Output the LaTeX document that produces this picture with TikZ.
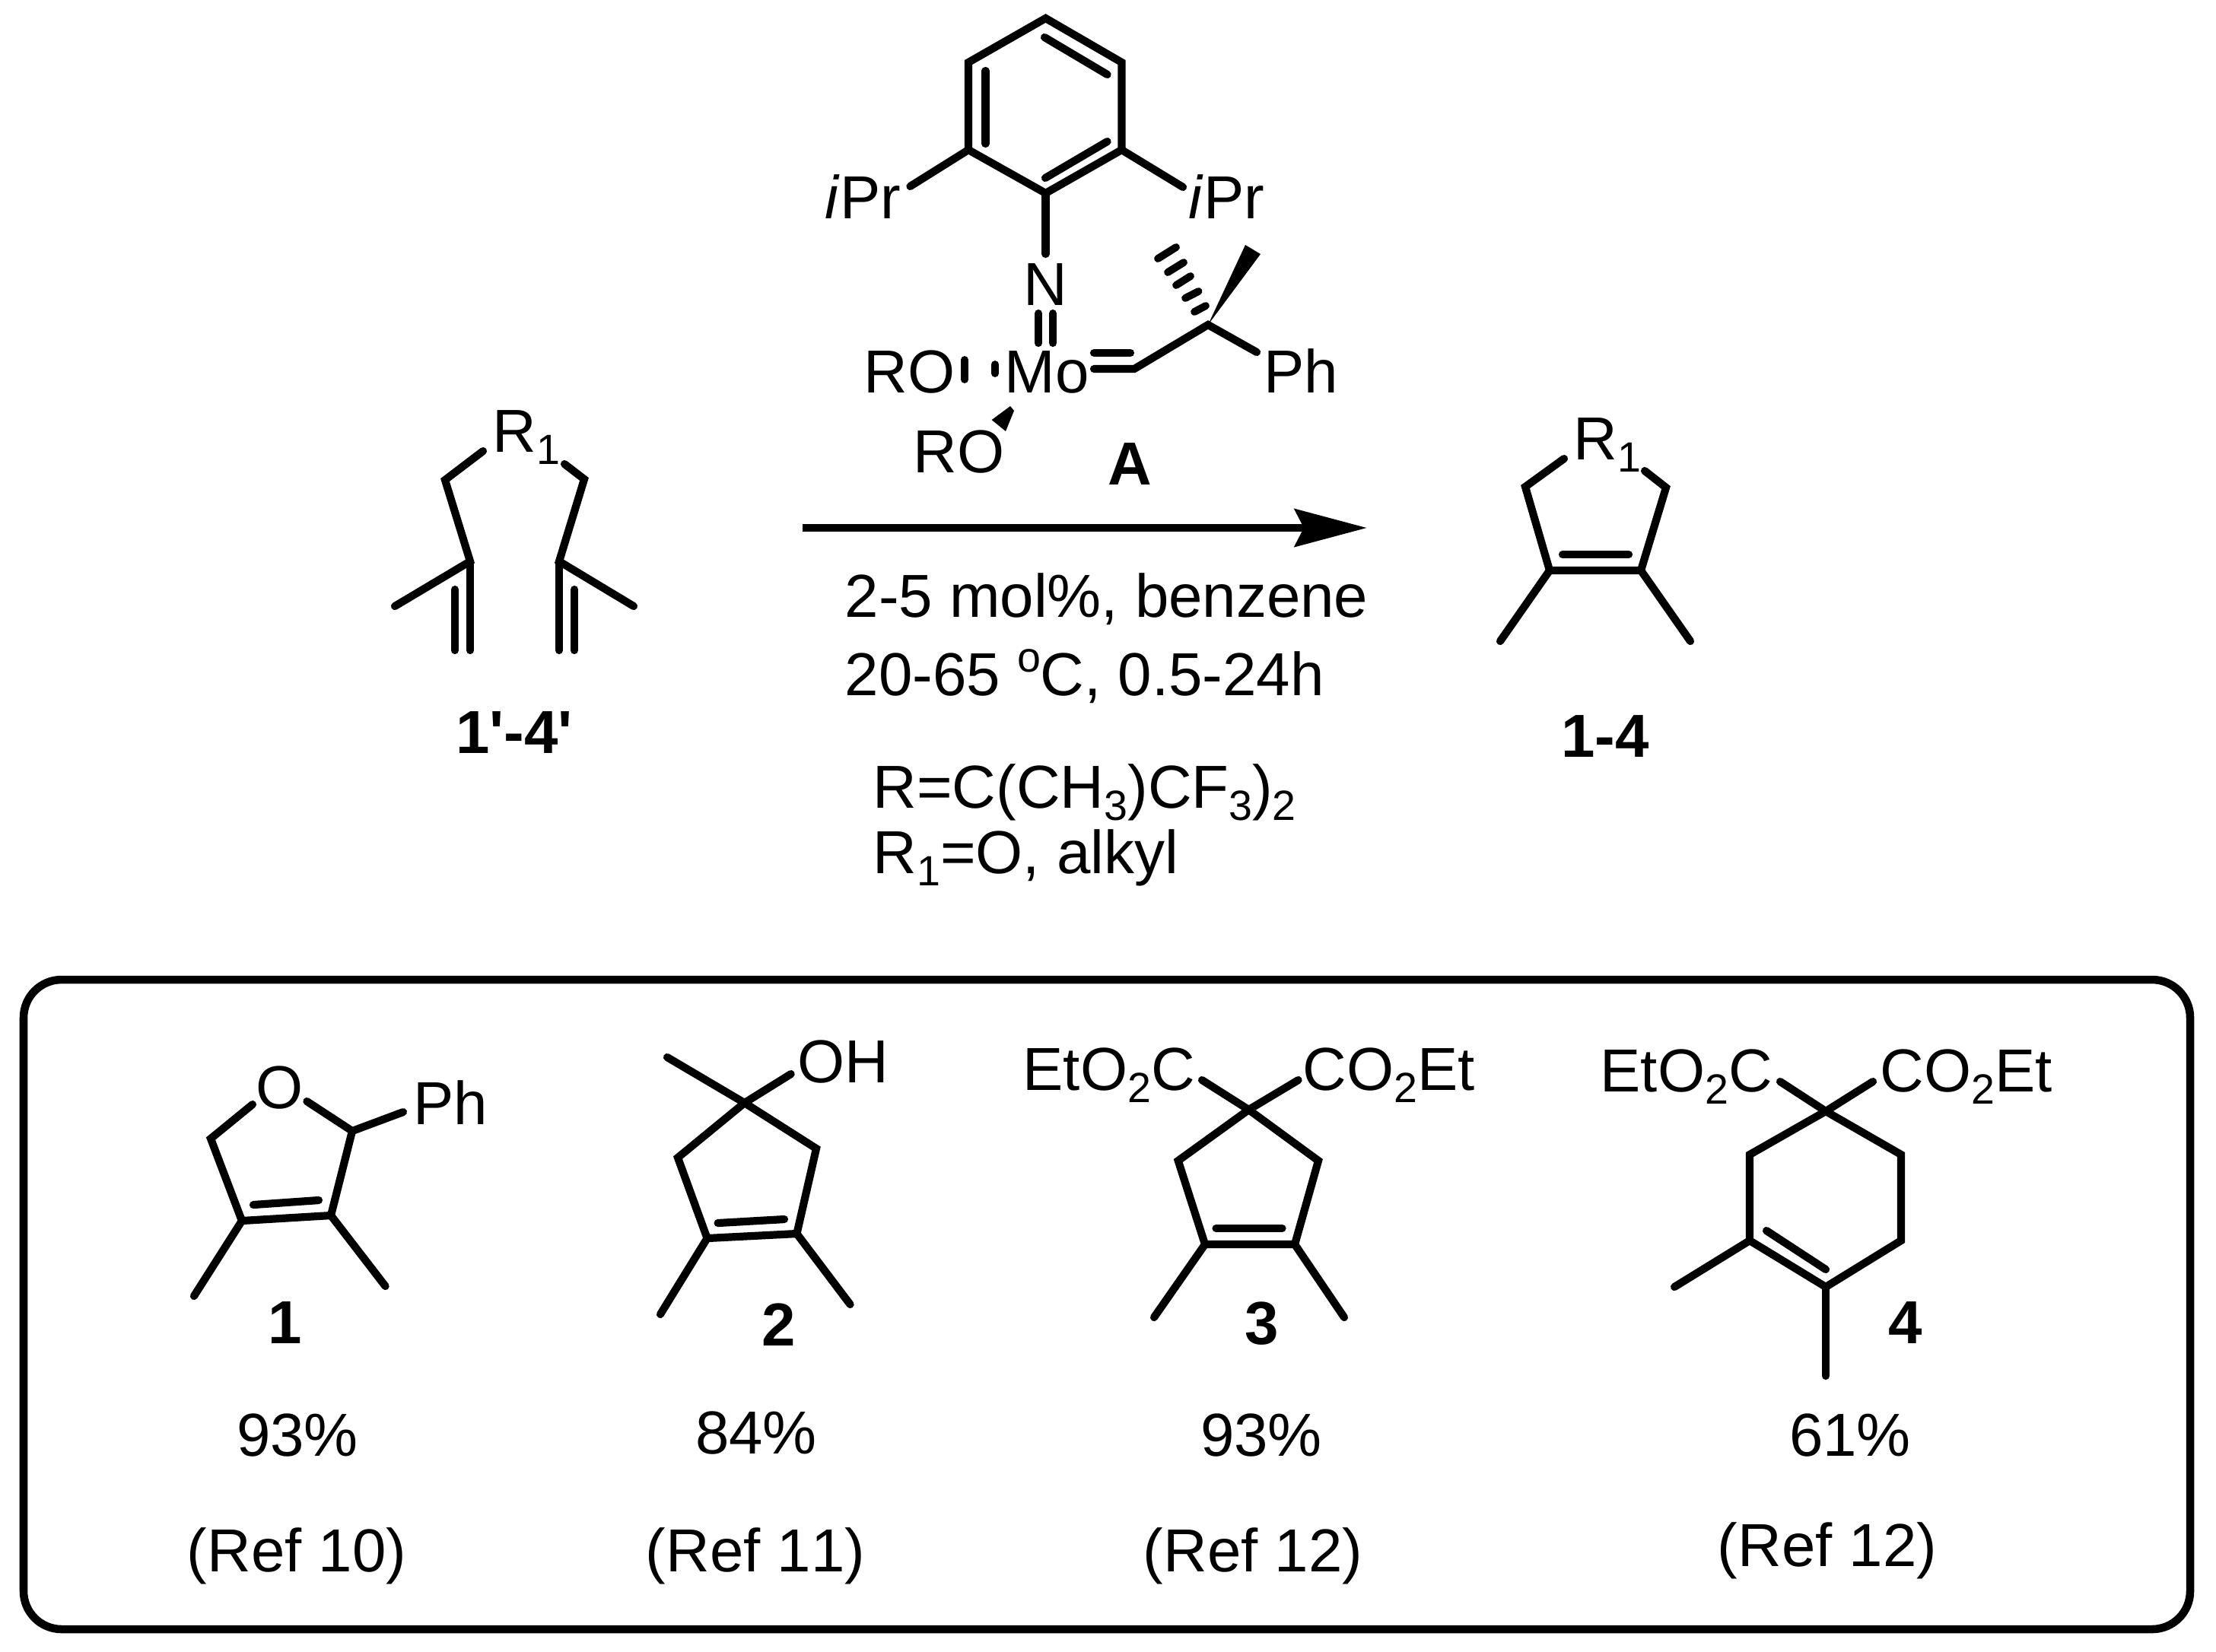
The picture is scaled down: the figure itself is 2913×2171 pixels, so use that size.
\documentclass[tikz,border=0pt]{standalone}
\usepackage{fontspec}
\setmainfont{Liberation Sans}[Ligatures=TeXOff,Kerning=Off]
\usetikzlibrary{arrows.meta}
% lowered and raised small text
\newcommand{\subs}[1]{\raisebox{-4.8pt}{\fontsize{15.8}{18}\selectfont #1}}
\newcommand{\sups}[1]{\raisebox{8.8pt}{\fontsize{15.8}{18}\selectfont #1}}
\tikzset{
    %Define standard arrow tip
    >={Stealth[length=27pt,width=14pt,inset=3.4pt]},
    %Define style for atom labels and plain text
    atom/.style={
           inner sep=0pt,
           anchor=base west,
           font=\fontsize{22.7}{27}\selectfont},
    tag/.style={
           inner sep=0pt,
           anchor=base,
           font=\fontsize{22.7}{27}\selectfont},
    boldtag/.style={
           inner sep=0pt,
           anchor=base,
           font=\fontsize{22.7}{27}\selectfont\bfseries},
    % Define bond styles
    bond/.style={
           draw=black,
           line width=2.9pt,
           line cap=round},
    hash/.style={
           draw=black,
           line width=2.8pt,
           line cap=round},
    wedge/.style={
           fill=black},
    reaction/.style={
           ->,
           draw=black,
           line width=3.1pt},
    panel/.style={
           draw=black,
           line width=3pt,
           rounded corners=0.5cm}
}
\begin{document}
\begin{tikzpicture}[x=0.01cm,y=-0.01cm]
\useasboundingbox (0,0) rectangle (2913,2171);
% catalyst A
\coordinate (top) at (1374.5,24);
\coordinate (ur) at (1474.5,82);
\coordinate (lr) at (1474.5,197);
\coordinate (bot) at (1374.5,254);
\coordinate (ll) at (1273,197);
\coordinate (ul) at (1273,82);
\coordinate (in1) at (1295.4,93);
\coordinate (in2) at (1295.4,189);
\coordinate (in3) at (1373,49);
\coordinate (in4) at (1455.6,98);
\coordinate (in5) at (1374,234);
\coordinate (in6) at (1455.6,186);
\coordinate (ipl) at (1196.4,245);
\coordinate (ipr) at (1555,246);
\coordinate (nend) at (1374.5,334);
\coordinate (nm1) at (1365,412);
\coordinate (nm2) at (1365,451);
\coordinate (nm3) at (1384,412);
\coordinate (nm4) at (1384,451);
\coordinate (mc1) at (1438,464);
\coordinate (mc2) at (1486,464);
\coordinate (mc3) at (1438,485);
\coordinate (mc4) at (1491,485);
\coordinate (cq) at (1588,427);
\coordinate (phend) at (1652,463);
\draw[bond] (ul)--(top)--(ur)--(lr)--(bot)--(ll)--cycle;
\draw[bond] (in1)--(in2);
\draw[bond] (in3)--(in4);
\draw[bond] (in5)--(in6);
\draw[bond] (ll)--(ipl);
\draw[bond] (lr)--(ipr);
\draw[bond] (bot)--(nend);
\draw[bond] (nm1)--(nm2);
\draw[bond] (nm3)--(nm4);
\draw[bond] (mc1)--(mc2);
\draw[bond] (mc3)--(mc4)--(cq)--(phend);
\fill[wedge] (cq)--(1637,322)--(1657,334)--cycle;
\draw[hash] (1522,340)--(1546,325);
\draw[hash] (1535,358)--(1556,345);
\draw[hash] (1546,375)--(1565,363);
\draw[hash] (1558,392)--(1575.5,383);
\draw[hash] (1570,410)--(1585,402);
\draw[hash] (1268,473)--(1268,499);
\draw[hash] (1308,479)--(1308,491);
\fill[wedge] (1328,534)--(1333,540)--(1322,567)--(1303.6,552)--cycle;
\node[atom] (ipr1) at (1084,287) {\textit{i}Pr};
\node[atom] (ipr2) at (1562,287) {\textit{i}Pr};
\node[tag] (n) at (1374.5,401) {N};
\node[atom] (ro1) at (1135,516) {RO};
\node[atom] (mo) at (1320,516) {Mo};
\node[atom] (ph) at (1661,516) {Ph};
\node[atom] (ro2) at (1200,621) {RO};
\node[boldtag] (a) at (1485,637) {A};
% substrate
\coordinate (s1) at (635,593);
\coordinate (s2) at (585,631);
\coordinate (s3) at (618,738);
\coordinate (s4) at (519,797);
\coordinate (s5) at (618,855);
\coordinate (s6) at (598,775);
\coordinate (s7) at (598,855);
\coordinate (s8) at (742,610);
\coordinate (s9) at (768,630);
\coordinate (s10) at (735,738);
\coordinate (s11) at (833,797);
\coordinate (s12) at (735,855);
\coordinate (s13) at (755,775);
\coordinate (s14) at (755,855);
\draw[bond] (s1)--(s2)--(s3)--(s4);
\draw[bond] (s3)--(s5);
\draw[bond] (s6)--(s7);
\draw[bond] (s8)--(s9)--(s10)--(s11);
\draw[bond] (s10)--(s12);
\draw[bond] (s13)--(s14);
\node[atom] (sr) at (647,594) {R\subs{1}};
\node[boldtag] (slabel) at (676,990) {1'-4'};
% product
\coordinate (p1) at (2056,603);
\coordinate (p2) at (2005,640);
\coordinate (p3) at (2037,750);
\coordinate (p4) at (2157,750);
\coordinate (p5) at (2190,641);
\coordinate (p6) at (2162,619);
\coordinate (p7) at (2054,729);
\coordinate (p8) at (2141,729);
\coordinate (p9) at (1972,843);
\coordinate (p10) at (2222,843);
\draw[bond] (p1)--(p2)--(p3)--(p4)--(p5)--(p6);
\draw[bond] (p7)--(p8);
\draw[bond] (p3)--(p9);
\draw[bond] (p4)--(p10);
\node[atom] (pr) at (2068,604) {R\subs{1}};
\node[boldtag] (plabel) at (2110,995) {1-4};
% arrow and conditions
\coordinate (start) at (1055,694);
\coordinate (end) at (1797,694);
\draw[reaction] (start)--(end);
\node[atom] (c1) at (1110,811) {2-5 mol\%, benzene};
\node[atom] (c2) at (1110,914) {20-65 \sups{o}C, 0.5-24h};
\node[atom] (c3) at (1147,1062) {R=C(CH\subs{3})CF\subs{3})\subs{2}};
\node[atom] (c4) at (1147,1148) {R\subs{1}=O, alkyl};
% panel
\coordinate (boxtl) at (31,1288);
\coordinate (boxbr) at (2879,2142);
\draw[panel] (boxtl) rectangle (boxbr);
% compound 1
\coordinate (a1) at (332,1452);
\coordinate (a2) at (277,1497);
\coordinate (a3) at (318,1605);
\coordinate (a4) at (435,1598);
\coordinate (a5) at (463,1487);
\coordinate (a6) at (403.4,1448);
\coordinate (a7) at (530,1462);
\coordinate (a8) at (333,1584);
\coordinate (a9) at (419,1578);
\coordinate (a10) at (255,1704);
\coordinate (a11) at (506.6,1691);
\draw[bond] (a1)--(a2)--(a3)--(a4)--(a5)--(a6);
\draw[bond] (a5)--(a7);
\draw[bond] (a8)--(a9);
\draw[bond] (a3)--(a10);
\draw[bond] (a4)--(a11);
\node[tag] (o1) at (368,1457) {O};
\node[atom] (ph1) at (543,1478) {Ph};
\node[boldtag] (l1) at (375,1766) {1};
\node[tag] (y1) at (391,1914) {93\%};
\node[tag] (r1) at (390,2066) {(Ref 10)};
% compound 2
\coordinate (b1) at (978.7,1450);
\coordinate (b2) at (877,1390);
\coordinate (b3) at (1039.7,1412);
\coordinate (b4) at (891,1522);
\coordinate (b5) at (1073,1510);
\coordinate (b6) at (929.6,1628);
\coordinate (b7) at (1047.4,1622);
\coordinate (b8) at (943.6,1608);
\coordinate (b9) at (1031,1603);
\coordinate (b10) at (868,1728);
\coordinate (b11) at (1117.6,1715);
\draw[bond] (b2)--(b1)--(b3);
\draw[bond] (b1)--(b4)--(b6)--(b7)--(b5)--cycle;
\draw[bond] (b8)--(b9);
\draw[bond] (b6)--(b10);
\draw[bond] (b7)--(b11);
\node[atom] (oh) at (1048,1423) {OH};
\node[boldtag] (l2) at (1024,1769) {2};
\node[tag] (y2) at (994,1911) {84\%};
\node[tag] (r2) at (993,2066) {(Ref 11)};
% compound 3
\coordinate (c1c) at (1641.5,1459);
\coordinate (c2c) at (1580,1420);
\coordinate (c3c) at (1706.6,1420);
\coordinate (c4c) at (1548.7,1526);
\coordinate (c5c) at (1733,1526);
\coordinate (c6c) at (1584,1636);
\coordinate (c7c) at (1702,1636);
\coordinate (c8c) at (1598.5,1615);
\coordinate (c9c) at (1685.5,1615);
\coordinate (c10c) at (1517,1732);
\coordinate (c11c) at (1767,1732);
\draw[bond] (c2c)--(c1c)--(c3c);
\draw[bond] (c1c)--(c4c)--(c6c)--(c7c)--(c5c)--cycle;
\draw[bond] (c8c)--(c9c);
\draw[bond] (c6c)--(c10c);
\draw[bond] (c7c)--(c11c);
\node[atom] (est1) at (1344,1433) {EtO\subs{2}C};
\node[atom] (est2) at (1712,1433) {CO\subs{2}Et};
\node[boldtag] (l3) at (1659,1767) {3};
\node[tag] (y3) at (1658,1914) {93\%};
\node[tag] (r3) at (1647,2066) {(Ref 12)};
% compound 4
\coordinate (d1) at (2400,1461);
\coordinate (d2) at (2340,1422);
\coordinate (d3) at (2462,1422);
\coordinate (d4) at (2300,1518);
\coordinate (d5) at (2499,1518);
\coordinate (d6) at (2300,1631);
\coordinate (d7) at (2499,1631);
\coordinate (d8) at (2400,1692);
\coordinate (d9) at (2322,1618);
\coordinate (d10) at (2400,1669);
\coordinate (d11) at (2201,1692);
\coordinate (d12) at (2400,1809);
\draw[bond] (d2)--(d1)--(d3);
\draw[bond] (d1)--(d4)--(d6)--(d8)--(d7)--(d5)--cycle;
\draw[bond] (d9)--(d10);
\draw[bond] (d6)--(d11);
\draw[bond] (d8)--(d12);
\node[atom] (est3) at (2103,1435) {EtO\subs{2}C};
\node[atom] (est4) at (2471,1435) {CO\subs{2}Et};
\node[boldtag] (l4) at (2505,1766) {4};
\node[tag] (y4) at (2432,1914) {61\%};
\node[tag] (r4) at (2402,2059) {(Ref 12)};
\end{tikzpicture}
\end{document}
